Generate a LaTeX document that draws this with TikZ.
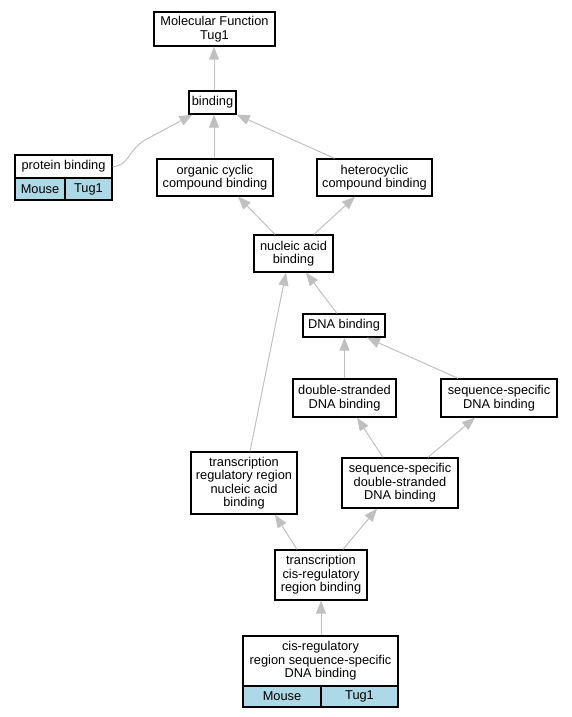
\documentclass[tikz,border=0pt]{standalone}
\usepackage{fontspec}
\setmainfont{Liberation Sans}
\usetikzlibrary{arrows.meta}

\definecolor{edgegray}{HTML}{C0C0C0}
\definecolor{cellblue}{HTML}{ADD8E6}

\tikzset{
  term/.style={draw, line width=1.3pt, fill=white, align=center, inner sep=0pt,
    font=\fontsize{12.8}{13.5}\selectfont},
  cell/.style={term, fill=cellblue},
  isa/.style={draw=edgegray, line width=1pt,
    -{Triangle[length=13pt,width=10pt,fill=edgegray]}}
}

\begin{document}
\begin{tikzpicture}[x=1pt,y=-1pt]

      \useasboundingbox (0,0) rectangle (572,717);

      % terms
      \node[term, minimum width=121, minimum height=34] (mf) at (214.5,29) {Molecular Function\\Tug1};
      \node[term, minimum width=47, minimum height=23] (bind) at (212.5,102.5) {binding};

      \node[term, minimum width=97, minimum height=23] (pb) at (63.5,166.5) {protein binding};
      \node[cell, minimum width=50, minimum height=22] (pbmouse) at (40,189) {Mouse};
      \node[cell, minimum width=47, minimum height=22] (pbtug) at (88.5,189) {Tug1};

      \node[term, minimum width=116, minimum height=37] (org) at (215,177.5) {organic cyclic\\compound binding};
      \node[term, minimum width=115, minimum height=37] (het) at (374.5,177.5) {heterocyclic\\compound binding};
      \node[term, minimum width=79, minimum height=37] (nuc) at (293.5,253.5) {nucleic acid\\binding};
      \node[term, minimum width=82, minimum height=23] (dna) at (344,325.5) {DNA binding};
      \node[term, minimum width=103, minimum height=38] (ds) at (344.5,398) {double-stranded\\DNA binding};
      \node[term, minimum width=116, minimum height=38] (ss) at (499,398) {sequence-specific\\DNA binding};
      \node[term, minimum width=106, minimum height=62] (trr) at (244,483) {transcription\\regulatory region\\nucleic acid\\binding};
      \node[term, minimum width=116, minimum height=50] (ssds) at (400,483) {sequence-specific\\double-stranded\\DNA binding};
      \node[term, minimum width=92, minimum height=50] (tcr) at (321,575) {transcription\\cis-regulatory\\region binding};

      \node[term, minimum width=155, minimum height=50] (crs) at (320.5,661) {cis-regulatory\\region sequence-specific\\DNA binding};
      \node[cell, minimum width=78, minimum height=21] (crsmouse) at (282,696.5) {Mouse};
      \node[cell, minimum width=77, minimum height=21] (crstug) at (359.5,696.5) {Tug1};

      % is_a edges
      \draw[isa] ([xshift=1.5]bind.north) -- ([xshift=-0.5]mf.south);
      \draw[isa] (pb.east) .. controls +(16,0) and (128,150) .. (145,140) -- ([xshift=-20]bind.south);
      \draw[isa] ([xshift=-1]org.north) -- ([xshift=1.5]bind.south);
      \draw[isa] ([xshift=-40]het.north) -- (bind.south east);
      \draw[isa] ([xshift=-18.5]nuc.north) -- ([xshift=23]org.south);
      \draw[isa] ([xshift=20.5]nuc.north) -- ([xshift=-19.5]het.south);
      \draw[isa] ([xshift=-7]dna.north) -- ([xshift=12.5]nuc.south);
      \draw[isa] ([xshift=6]trr.north) -- ([xshift=-7.5]nuc.south);
      \draw[isa] (ds.north) -- ([xshift=0.5]dna.south);
      \draw[isa] ([xshift=-41]ss.north) -- ([xshift=23]dna.south);
      \draw[isa] ([xshift=-17]ssds.north) -- ([xshift=12.5]ds.south);
      \draw[isa] ([xshift=28]ssds.north) -- ([xshift=-24]ss.south);
      \draw[isa] ([xshift=-24]tcr.north) -- ([xshift=31]trr.south);
      \draw[isa] ([xshift=22]tcr.north) -- ([xshift=-23]ssds.south);
      \draw[isa] ([xshift=0.5]crs.north) -- (tcr.south);
    \end{tikzpicture}
\end{document}
